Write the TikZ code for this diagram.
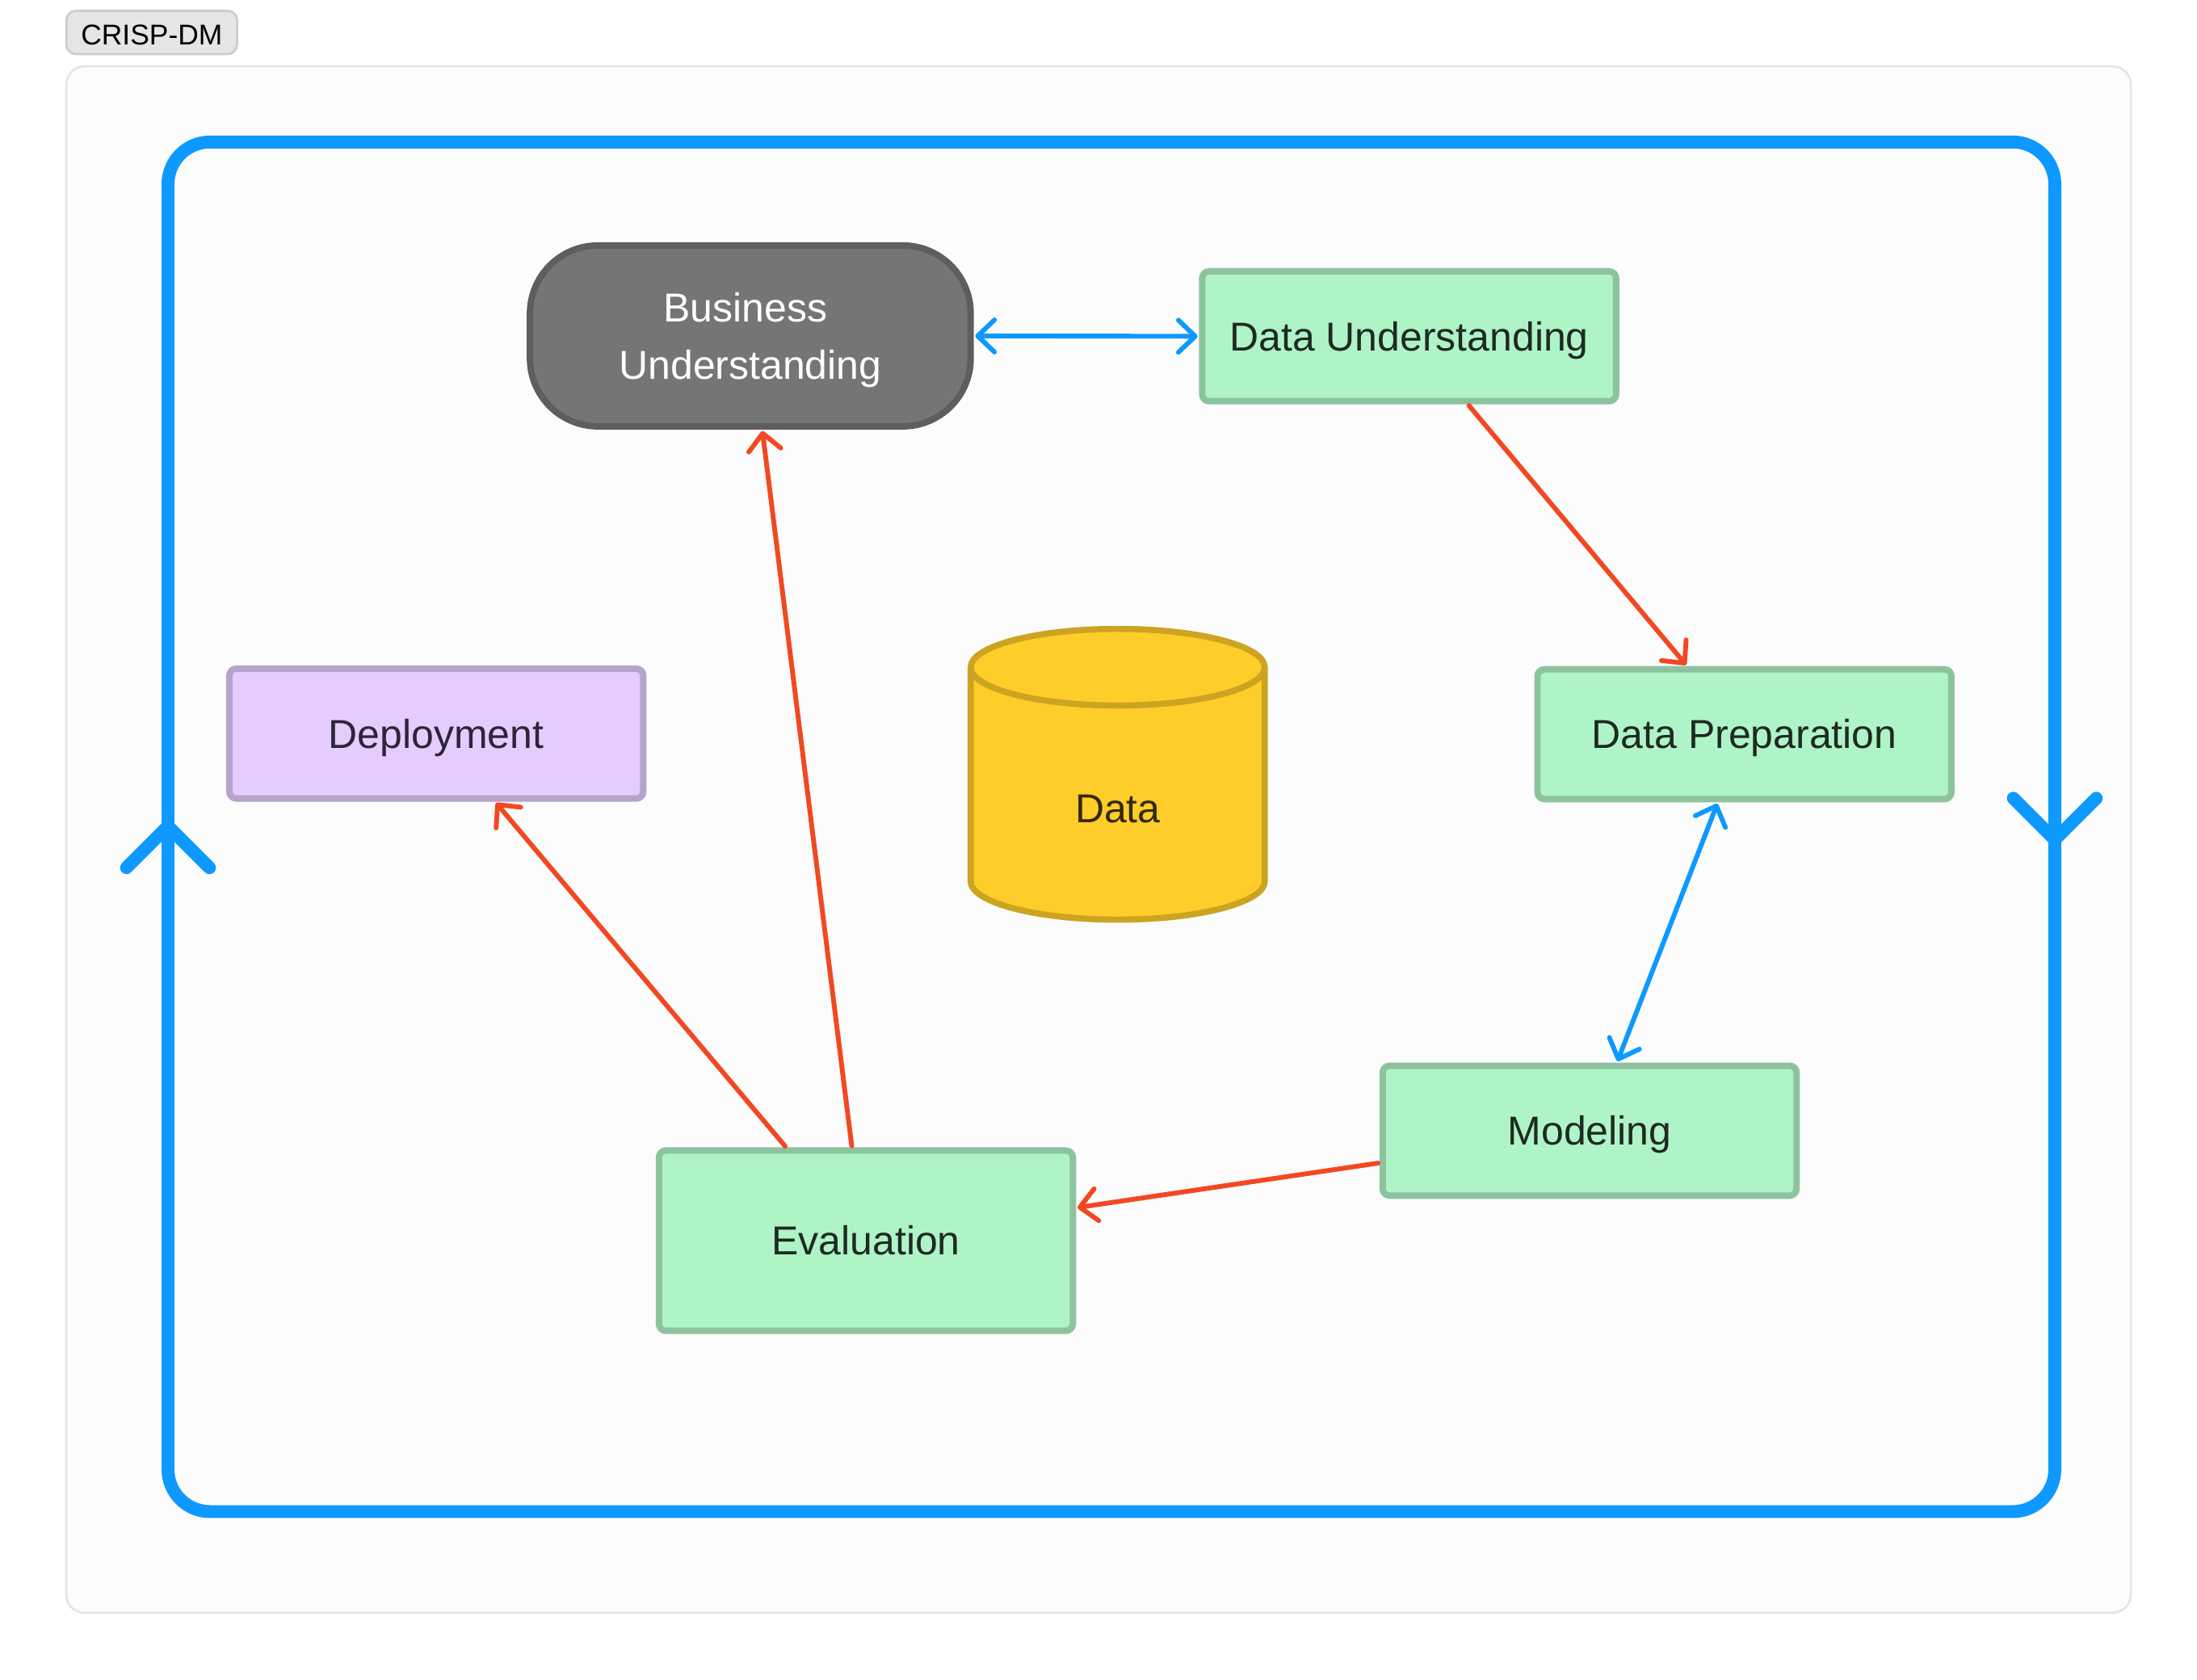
\documentclass[tikz,border=0pt]{standalone}
\usepackage{fontspec}
\setmainfont{Liberation Sans}
\usetikzlibrary{arrows.meta,shapes.geometric}
\definecolor{loopblue}{HTML}{0D99FF}
\definecolor{linkred}{HTML}{F24822}
\begin{document}
\begin{tikzpicture}[x=1pt,y=-1pt,
  box/.style={draw,rectangle,rounded corners=5pt,line width=4.6pt,minimum width=295.4pt,minimum height=92.7pt,
    font=\fontsize{28.8}{41}\selectfont,text height=20.6pt,text depth=0pt},
  phase/.style={box,fill={rgb,255:red,175;green,244;blue,198},draw={rgb,255:red,140;green,195;blue,158},text={rgb,255:red,30;green,42;blue,34}},
  blueline/.style={draw=loopblue,line width=3.4pt,line cap=round,{Straight Barb[length=12pt,width=23pt,round]}-{Straight Barb[length=12pt,width=23pt,round]},shorten >=1pt,shorten <=1pt},
  redline/.style={draw=linkred,line width=3.4pt,line cap=round,-{Straight Barb[length=12pt,width=23pt,round]},shorten >=1pt,shorten <=1pt},
  looptip/.style={draw=loopblue,line width=9.2pt,line cap=round}]
  \useasboundingbox (0,0) rectangle (1568,1199);
  \fill[white] (0,0) rectangle (1568,1199);
  \node (tag) at (108.3,23.15) [draw={rgb,255:red,204;green,204;blue,204},fill={rgb,255:red,229;green,229;blue,229},line width=1.5pt,rounded corners=7pt,
    minimum width=122pt,minimum height=31pt,font=\fontsize{20.4}{24}\selectfont,text height=17.7pt,text depth=0pt] {CRISP-DM};
  \node (panel) at (784,599.2) [draw={rgb,255:red,229;green,229;blue,229},fill={rgb,255:red,252;green,252;blue,252},line width=1.5pt,rounded corners=13pt,
    minimum width=1473.5pt,minimum height=1103.7pt] {};
  \node (loop) at (793.2,590.1) [draw=loopblue,line width=9.2pt,rounded corners=30pt,minimum width=1346.6pt,minimum height=977.5pt] {};
  \coordinate (uptip) at (119.9,589.7);
  \coordinate (downtip) at (1466.5,599.3);
  \draw[looptip] ([shift={(-29.6,29.6)}]uptip) -- (uptip) -- ([shift={(29.6,29.6)}]uptip);
  \draw[looptip] ([shift={(-29.6,-29.6)}]downtip) -- (downtip) -- ([shift={(29.6,-29.6)}]downtip);

  \node (biz) at (535.5,239.75) [box,rounded corners=48.5pt,minimum width=314.5pt,minimum height=129.1pt,align=center,
    text height=61.6pt,fill={rgb,255:red,117;green,117;blue,117},draw={rgb,255:red,94;green,94;blue,94},text=white] {Business\kern7pt\\Understanding};
  \node (dataund) at (1005.7,240) [phase] {Data Understanding};
  \node (dataprep) at (1245,524) [phase] {Data Preparation};
  \node (model) at (1134.5,807) [phase] {Modeling};
  \node (eval) at (618,885.5) [phase,minimum height=128.7pt] {Evaluation};
  \node (deploy) at (311.4,523.6) [box,fill={rgb,255:red,228;green,204;blue,255},draw={rgb,255:red,182;green,163;blue,204},text={rgb,255:red,45;green,36;blue,56}] {Deployment};
  \node (data) at (797.7,570.8) [draw={rgb,255:red,204;green,164;blue,33},fill={rgb,255:red,255;green,205;blue,41},line width=4.4pt,
    cylinder,cylinder uses custom fill,cylinder body fill={rgb,255:red,255;green,205;blue,41},cylinder end fill={rgb,255:red,255;green,205;blue,41},
    shape border rotate=90,aspect=0.81,minimum width=209.8pt,minimum height=207.5pt,
    font=\fontsize{28.8}{41}\selectfont,text height=33pt,text depth=0pt,text={rgb,255:red,51;green,41;blue,8}] {Data};

  \draw[blueline] (biz.east) -- (dataund.west);
  \draw[redline] ([xshift=42pt]dataund.south) -- ([xshift=-41pt]dataprep.north);
  \draw[blueline] ([xshift=-19pt]dataprep.south) -- ([xshift=19.5pt]model.north);
  \draw[redline] ([yshift=-23pt]model.west) -- ([yshift=23.5pt]eval.east);
  \draw[redline] ([xshift=-10pt]eval.north) -- ([xshift=8.5pt]biz.south);
  \draw[redline] ([xshift=-57pt]eval.north) -- ([xshift=42pt]deploy.south);
\end{tikzpicture}
\end{document}
